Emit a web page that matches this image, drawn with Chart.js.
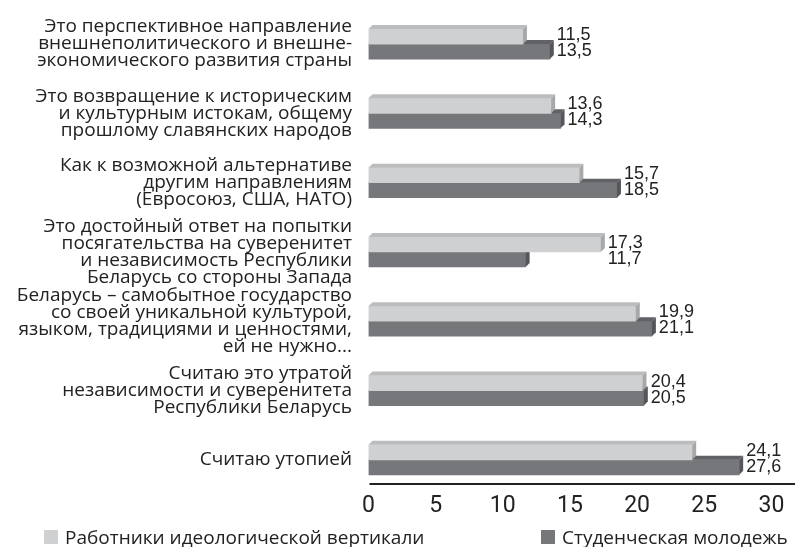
<!DOCTYPE html>
<html><head><meta charset="utf-8">
<script src="https://cdn.jsdelivr.net/npm/chart.js@4"></script>
<style>
html,body{margin:0;padding:0;background:#fff;}
#wrap{position:relative;width:795px;height:547px;overflow:hidden;}
canvas{position:absolute;left:0;top:0;}
.lg{position:absolute;top:525px;height:24px;font:19px "Open Sans";line-height:24px;color:#222;white-space:nowrap;display:flex;align-items:center;}
.lg i{display:inline-block;width:14px;height:14px;margin-right:7px;}
</style></head><body>
<div id="wrap"><canvas id="c" width="795" height="547"></canvas>
<div class="lg" id="lg1" style="left:44px"></div><div class="lg" id="lg2" style="left:541px"></div></div>
<script>
const categories = [
  ["Это перспективное направление", "внешнеполитического и внешне-", "экономического развития страны"],
  ["Это возвращение к историческим", "и культурным истокам, общему", "прошлому славянских народов"],
  ["Как к возможной альтернативе", "другим направлениям", "(Евросоюз, США, НАТО)"],
  ["Это достойный ответ на попытки", "посягательства на суверенитет", "и независимость Республики", "Беларусь со стороны Запада"],
  ["Беларусь – самобытное государство", "со своей уникальной культурой,", "языком, традициями и ценностями,", "ей не нужно..."],
  ["Считаю это утратой", "независимости и суверенитета", "Республики Беларусь"],
  ["Считаю утопией"]
];
const seriesNames = ["Работники идеологической вертикали", "Студенческая молодежь"];
const workers = [11.5, 13.6, 15.7, 17.3, 19.9, 20.4, 24.1];
const students = [13.5, 14.3, 18.5, 11.7, 21.1, 20.5, 27.6];
const xTicks = [0, 5, 10, 15, 20, 25, 30];

const colors = [
  {front: "#cfd0d2", top: "#bbbcbe", side: "#a7a8aa"},
  {front: "#76777b", top: "#616266", side: "#55565a"}
];
const DEPTH = 4;
const fmt = v => v.toFixed(1).replace(".", ",");

const faces = {
  id: "faces",
  afterDatasetDraw(chart, args) {
    const c = colors[args.index];
    const ctx = chart.ctx;
    ctx.save();
    args.meta.data.forEach(bar => {
      const p = bar.getProps(["x", "y", "base", "height"], true);
      const top = p.y - p.height / 2, bottom = p.y + p.height / 2;
      const x0 = Math.min(p.base, p.x), x1 = Math.max(p.base, p.x);
      ctx.fillStyle = c.top;
      ctx.beginPath();
      ctx.moveTo(x0, top); ctx.lineTo(x0 + DEPTH, top - DEPTH);
      ctx.lineTo(x1 + DEPTH, top - DEPTH); ctx.lineTo(x1, top);
      ctx.closePath(); ctx.fill();
      ctx.fillStyle = c.side;
      ctx.beginPath();
      ctx.moveTo(x1, top); ctx.lineTo(x1 + DEPTH, top - DEPTH);
      ctx.lineTo(x1 + DEPTH, bottom - DEPTH); ctx.lineTo(x1, bottom);
      ctx.closePath(); ctx.fill();
    });
    ctx.restore();
  }
};

const extras = {
  id: "extras",
  afterDraw(chart) {
    const ctx = chart.ctx;
    const a = chart.chartArea;
    ctx.save();
    ctx.strokeStyle = "#222";
    ctx.lineWidth = 2;
    ctx.beginPath();
    ctx.moveTo(a.left + 1, a.bottom - 10.5);
    ctx.lineTo(chart.width, a.bottom - 10.5);
    ctx.stroke();
    const m0 = chart.getDatasetMeta(0), m1 = chart.getDatasetMeta(1);
    ctx.font = '18px "Liberation Sans"';
    ctx.fillStyle = "#222";
    ctx.textAlign = "left";
    ctx.textBaseline = "middle";
    m0.data.forEach((b0, i) => {
      const b1 = m1.data[i];
      const xe = Math.max(b0.x, b1.x) + DEPTH + 3;
      const yb = (b0.y + b1.y) / 2;
      ctx.fillText(fmt(workers[i]), xe, yb - 9);
      ctx.fillText(fmt(students[i]), xe, yb + 7);
    });
    ctx.restore();
  }
};

new Chart(document.getElementById("c"), {
  type: "bar",
  data: {
    labels: categories,
    datasets: [
      {label: seriesNames[0], data: workers, backgroundColor: colors[0].front, barThickness: 15},
      {label: seriesNames[1], data: students, backgroundColor: colors[1].front, barThickness: 15}
    ]
  },
  options: {
    indexAxis: "y",
    responsive: false,
    animation: false,
    devicePixelRatio: 1,
    layout: {padding: {top: 9.4, right: 23.6, bottom: 0, left: 0}},
    plugins: {legend: {display: false}, tooltip: {enabled: false}},
    scales: {
      x: {
        min: 0, max: 30,
        afterBuildTicks: s => { s.ticks = xTicks.map(v => ({value: v})); },
        grid: {display: false, drawTicks: false},
        border: {display: false},
        ticks: {font: {family: "Roboto", size: 23}, color: "#222", padding: -2, maxRotation: 0},
        afterFit: s => { s.height = 52.5; s.paddingLeft = 0; s.paddingRight = 0; }
      },
      y: {
        grid: {display: false, drawTicks: false},
        border: {display: false},
        ticks: {font: {family: "Open Sans", size: 19, lineHeight: "17px"}, color: "#222", padding: 16.5, autoSkip: false},
        afterFit: s => { s.width = 368.5; s.paddingTop = 0; s.paddingBottom = 0; }
      }
    }
  },
  plugins: [faces, extras]
});

document.getElementById("lg1").innerHTML = '<i style="background:' + colors[0].front + '"></i>' + seriesNames[0];
document.getElementById("lg2").innerHTML = '<i style="background:' + colors[1].front + '"></i>' + seriesNames[1];
</script>
</body></html>
